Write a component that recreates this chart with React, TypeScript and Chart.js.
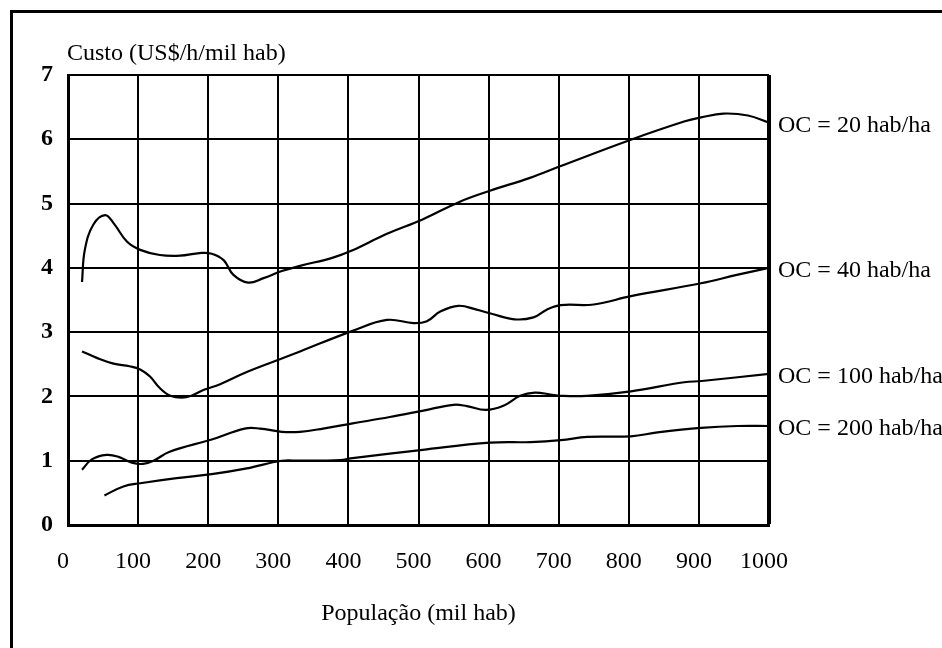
import React, { useEffect, useRef } from "react";
import { Chart, registerables } from "chart.js";

Chart.register(...registerables);

// População (mil hab) on the x axis, Custo (US$/h/mil hab) on the y axis
const xTicks = [0, 100, 200, 300, 400, 500, 600, 700, 800, 900, 1000];
const yTicks = [0, 1, 2, 3, 4, 5, 6, 7];

const seriesLabels = ["OC = 20 hab/ha", "OC = 40 hab/ha", "OC = 100 hab/ha", "OC = 200 hab/ha"];

const oc20Pop = [20, 24, 36, 53, 66, 84, 103, 131, 160, 188, 205, 222, 236, 257, 279, 305, 331, 378, 405, 455, 505, 559, 602, 659, 702, 802, 880, 903, 935, 970, 1000];
const oc20Custo = [3.78, 4.28, 4.67, 4.82, 4.68, 4.41, 4.28, 4.2, 4.19, 4.23, 4.22, 4.12, 3.89, 3.77, 3.84, 3.95, 4.03, 4.16, 4.27, 4.53, 4.75, 5.03, 5.2, 5.4, 5.58, 5.99, 6.28, 6.34, 6.4, 6.37, 6.26];

const oc40Pop = [20, 41, 65, 88, 103, 117, 131, 146, 162, 176, 193, 217, 255, 305, 331, 406, 455, 493, 512, 531, 557, 583, 603, 637, 664, 683, 703, 750, 803, 903, 954, 1000];
const oc40Custo = [2.7, 2.6, 2.51, 2.47, 2.42, 2.31, 2.13, 2.01, 1.98, 2.01, 2.1, 2.19, 2.38, 2.59, 2.7, 3.02, 3.19, 3.14, 3.17, 3.32, 3.41, 3.35, 3.29, 3.2, 3.23, 3.35, 3.42, 3.43, 3.56, 3.76, 3.89, 4.0];

const oc100Pop = [20, 34, 55, 72, 91, 107, 122, 145, 205, 252, 274, 305, 331, 364, 406, 459, 507, 550, 569, 596, 622, 645, 666, 688, 703, 740, 803, 879, 904, 1000];
const oc100Custo = [0.86, 1.02, 1.09, 1.06, 0.97, 0.95, 1.0, 1.14, 1.33, 1.5, 1.5, 1.45, 1.45, 1.5, 1.58, 1.68, 1.78, 1.87, 1.85, 1.79, 1.86, 2.01, 2.06, 2.03, 2.01, 2.01, 2.08, 2.22, 2.24, 2.35];

const oc200Pop = [52, 79, 103, 155, 205, 255, 305, 331, 388, 406, 506, 602, 660, 703, 741, 803, 841, 903, 955, 1000];
const oc200Custo = [0.46, 0.6, 0.65, 0.73, 0.79, 0.88, 1.0, 1.0, 1.01, 1.04, 1.17, 1.28, 1.29, 1.32, 1.37, 1.38, 1.44, 1.51, 1.54, 1.54];

const yTitle = "Custo (US$/h/mil hab)";
const xTitle = "População (mil hab)";

const SERIF = '"Liberation Serif", "Times New Roman", serif';

const toPoints = (xs: number[], ys: number[]) => xs.map((x, i) => ({ x, y: ys[i] }));

const seriesData = [
  toPoints(oc20Pop, oc20Custo),
  toPoints(oc40Pop, oc40Custo),
  toPoints(oc100Pop, oc100Custo),
  toPoints(oc200Pop, oc200Custo),
];

// Background, outer frame, axis titles and the curve labels at the right end
const decorations = {
  id: "decorations",
  beforeDraw(chart: any) {
    const { ctx, width, height } = chart;
    ctx.save();
    ctx.fillStyle = "#fff";
    ctx.fillRect(0, 0, width, height);
    ctx.strokeStyle = "#000";
    ctx.lineWidth = 3;
    ctx.strokeRect(11.5, 11.5, width + 20, height + 20);
    ctx.restore();
  },
  afterDraw(chart: any) {
    const { ctx, chartArea, scales } = chart;
    ctx.save();
    ctx.fillStyle = "#000";
    ctx.font = `24px ${SERIF}`;
    ctx.textBaseline = "middle";
    ctx.textAlign = "left";
    ctx.fillText(yTitle, chartArea.left - 1, 54);
    ctx.textAlign = "center";
    ctx.fillText(xTitle, (chartArea.left + chartArea.right) / 2, 614);
    ctx.textAlign = "left";
    chart.data.datasets.forEach((ds: any, i: number) => {
      const last = ds.data[ds.data.length - 1];
      const y = scales.y.getPixelForValue(last.y) + 3;
      ctx.fillText(seriesLabels[i], chartArea.right + 9, y);
    });
    ctx.restore();
  },
};

export default function App() {
  const canvasRef = useRef<HTMLCanvasElement | null>(null);

  useEffect(() => {
    const canvas = canvasRef.current;
    if (!canvas) return;
    const chart = new Chart(canvas, {
      type: "line",
      data: {
        datasets: seriesData.map((data, i) => ({
          label: seriesLabels[i],
          data,
          borderColor: "#000",
          borderWidth: 2.2,
          pointRadius: 0,
          tension: 0.4,
          fill: false,
        })),
      },
      options: {
        animation: false,
        responsive: false,
        maintainAspectRatio: false,
        events: [],
        layout: { padding: { top: 75, right: 173, left: 0, bottom: 0 } },
        plugins: {
          legend: { display: false },
          title: { display: false },
          tooltip: { enabled: false },
        },
        scales: {
          x: {
            type: "linear",
            min: xTicks[0],
            max: xTicks[xTicks.length - 1],
            afterBuildTicks: (scale: any) => {
              scale.ticks = xTicks.map((v) => ({ value: v }));
            },
            afterFit: (scale: any) => {
              scale.height = 123;
            },
            ticks: {
              color: "#000",
              font: { family: SERIF, size: 24 },
              padding: 22,
              labelOffset: -5,
              maxRotation: 0,
              autoSkip: false,
              callback: (v: any) => String(v),
            },
            grid: {
              color: "#000",
              lineWidth: (c: any) => (c.tick && c.tick.value === 1000 ? 4 : 2),
              drawTicks: false,
            },
            border: { display: true, color: "#000", width: 3 },
          },
          y: {
            min: yTicks[0],
            max: yTicks[yTicks.length - 1],
            afterBuildTicks: (scale: any) => {
              scale.ticks = yTicks.map((v) => ({ value: v }));
            },
            afterFit: (scale: any) => {
              scale.width = 68;
            },
            ticks: {
              color: "#000",
              font: { family: SERIF, size: 24, weight: "bold" },
              padding: 15,
              callback: (v: any) => String(v),
            },
            grid: {
              color: "#000",
              lineWidth: 2,
              drawTicks: false,
            },
            border: { display: true, color: "#000", width: 3 },
          },
        },
      },
      plugins: [decorations],
    });
    return () => chart.destroy();
  }, []);

  return (
    <div style={{ position: "fixed", left: 0, top: 0, width: 942, height: 648, background: "#fff" }}>
      <canvas ref={canvasRef} width={942} height={648} style={{ display: "block", width: 942, height: 648 }} />
    </div>
  );
}
